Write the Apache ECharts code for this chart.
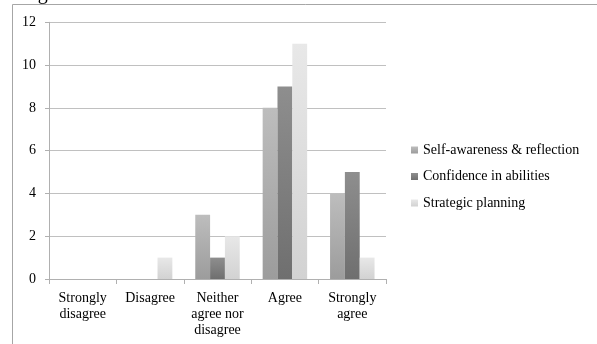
<!DOCTYPE html>
<html>
<head>
<meta charset="utf-8">
<script src="https://cdn.jsdelivr.net/npm/echarts@6/dist/echarts.min.js"></script>
<style>
html,body{margin:0;padding:0;background:#fff;}
#chart{width:597px;height:344px;}
</style>
</head>
<body>
<div id="chart"></div>
<script>
var categories = ['Strongly\ndisagree', 'Disagree', 'Neither\nagree nor\ndisagree', 'Agree', 'Strongly\nagree'];
var seriesNames = ['Self-awareness & reflection', 'Confidence in abilities', 'Strategic planning'];
var selfAwareness = [0, 0, 3, 8, 4];
var confidence = [0, 0, 1, 9, 5];
var strategic = [0, 1, 2, 11, 1];
var yTicks = [0, 2, 4, 6, 8, 10, 12];

var FONT = '"Liberation Serif", "Times New Roman", serif';

function grad(top, bottom) {
  return new echarts.graphic.LinearGradient(0, 0, 0, 1, [
    { offset: 0, color: top },
    { offset: 1, color: bottom }
  ]);
}
var fills = [grad('#bdbdbd', '#9c9c9c'), grad('#8e8e8e', '#6f6f6f'), grad('#e8e8e8', '#d2d2d2')];
var values = [selfAwareness, confidence, strategic];

var chart = echarts.init(document.getElementById('chart'), null, { renderer: 'canvas' });
chart.setOption({
  animation: false,
  backgroundColor: '#fff',
  graphic: [
    { type: 'rect', shape: { x: 12.5, y: 4.5, width: 700, height: 500 }, style: { fill: 'none', stroke: '#a6a6a6', lineWidth: 1 }, silent: true },
    { type: 'text', x: 21, y: 4, style: { text: 'Figure', font: '20px ' + FONT, fill: '#000', textVerticalAlign: 'bottom' }, silent: true }
  ],
  grid: { left: 49, right: 211, top: 22.3, bottom: 65 },
  legend: {
    orient: 'vertical',
    left: 406,
    top: 137,
    itemWidth: 7,
    itemHeight: 7,
    itemGap: 10.5,
    icon: 'rect',
    textStyle: { fontFamily: FONT, fontSize: 14, color: '#000', lineHeight: 16 },
    data: seriesNames
  },
  xAxis: {
    type: 'category',
    data: categories,
    axisLine: { lineStyle: { color: '#b0b0b0' } },
    axisTick: { show: true, length: 5, lineStyle: { color: '#b0b0b0' } },
    axisLabel: { fontFamily: FONT, fontSize: 14, color: '#000', lineHeight: 16, margin: 11, interval: 0 }
  },
  yAxis: {
    type: 'value',
    min: yTicks[0],
    max: yTicks[yTicks.length - 1],
    interval: 2,
    axisLine: { show: true, lineStyle: { color: '#b0b0b0' } },
    axisTick: { show: true, length: 4, lineStyle: { color: '#b0b0b0' } },
    splitLine: { lineStyle: { color: '#c0c0c0' } },
    axisLabel: { fontFamily: FONT, fontSize: 14, color: '#000', margin: 13 }
  },
  series: seriesNames.map(function (n, i) {
    return {
      name: n,
      type: 'bar',
      data: values[i],
      barGap: '0%',
      barCategoryGap: '34%',
      itemStyle: { color: fills[i] }
    };
  })
});
</script>
</body>
</html>
